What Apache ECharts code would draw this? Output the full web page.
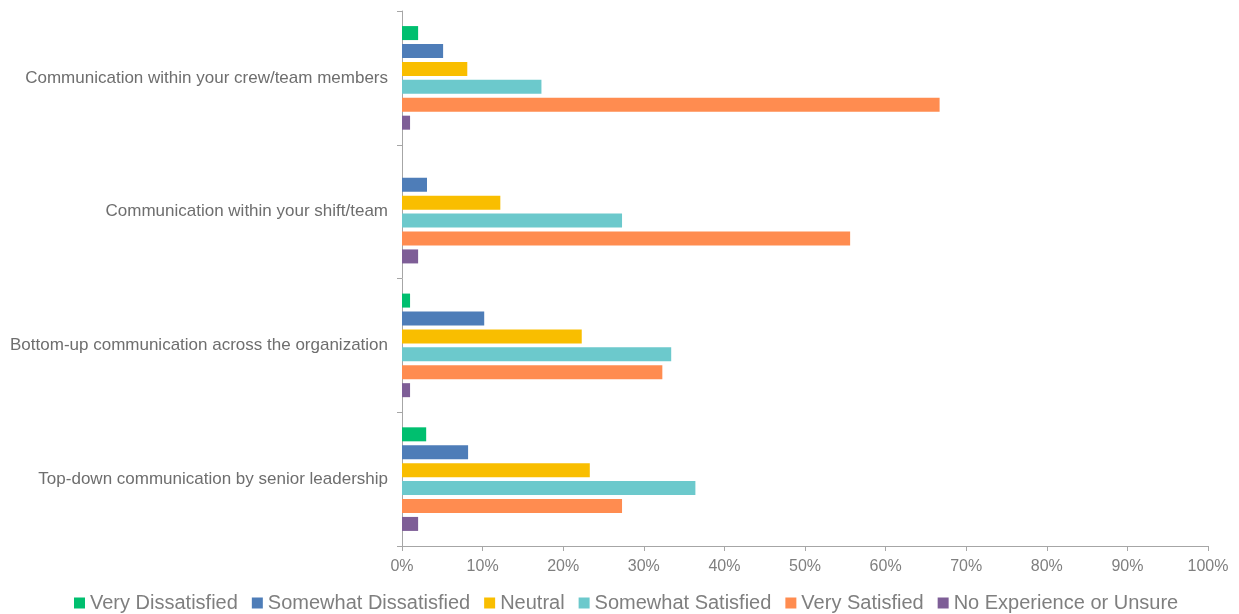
<!DOCTYPE html>
<html>
<head>
<meta charset="utf-8">
<script src="https://cdn.jsdelivr.net/npm/echarts@6/dist/echarts.min.js"></script>
<style>
  html, body { margin: 0; padding: 0; background: #fff; }
  #chart { width: 1239px; height: 614px; }
</style>
</head>
<body>
<div id="chart"></div>
<script>
// Survey items (top to bottom)
const categories = [
  'Communication within your crew/team members',
  'Communication within your shift/team',
  'Bottom-up communication across the organization',
  'Top-down communication by senior leadership'
];

// Response shares (%) per item, in category order
const veryDissatisfied     = [2.0, 0.0, 1.0, 3.0];
const somewhatDissatisfied = [5.1, 3.1, 10.2, 8.2];
const neutral              = [8.1, 12.2, 22.3, 23.3];
const somewhatSatisfied    = [17.3, 27.3, 33.4, 36.4];
const verySatisfied        = [66.7, 55.6, 32.3, 27.3];
const noExperience         = [1.0, 2.0, 1.0, 2.0];

const xTicks = [0, 10, 20, 30, 40, 50, 60, 70, 80, 90, 100];

const seriesDefs = [
  { name: 'Very Dissatisfied',     data: veryDissatisfied,     color: '#00BF6F' },
  { name: 'Somewhat Dissatisfied', data: somewhatDissatisfied, color: '#4E7DB8' },
  { name: 'Neutral',               data: neutral,              color: '#F9BE00' },
  { name: 'Somewhat Satisfied',    data: somewhatSatisfied,    color: '#6CC9CC' },
  { name: 'Very Satisfied',        data: verySatisfied,        color: '#FF8C50' },
  { name: 'No Experience or Unsure', data: noExperience,       color: '#7E5E97' }
];

const font = '"Liberation Sans", Arial, sans-serif';
const chart = echarts.init(document.getElementById('chart'));

chart.setOption({
  animation: false,
  textStyle: { fontFamily: font },
  grid: { left: 402, right: 31, top: 11, bottom: 68, containLabel: false },
  legend: {
    top: 588,
    left: 69,
    itemWidth: 11,
    itemHeight: 11,
    itemGap: 14,
    icon: 'rect',
    textStyle: { fontSize: 20, color: '#7F7F7F', fontFamily: font },
    data: seriesDefs.map(s => s.name)
  },
  xAxis: {
    type: 'value',
    min: xTicks[0],
    max: xTicks[xTicks.length - 1],
    interval: xTicks[1] - xTicks[0],
    axisLine: { show: true, lineStyle: { color: '#A6A6A6', width: 1 } },
    axisTick: { show: true, length: 5, lineStyle: { color: '#A6A6A6' } },
    splitLine: { show: false },
    axisLabel: {
      formatter: v => v + '%',
      fontSize: 16,
      color: '#7F7F7F',
      margin: 13,
      fontFamily: font
    }
  },
  yAxis: {
    type: 'category',
    inverse: true,
    data: categories,
    axisLine: { show: true, lineStyle: { color: '#A6A6A6', width: 1 } },
    axisTick: { show: true, length: 5, lineStyle: { color: '#A6A6A6' } },
    axisLabel: { fontSize: 17, color: '#6E6E6E', margin: 14, fontFamily: font }
  },
  series: seriesDefs.map(s => ({
    name: s.name,
    type: 'bar',
    data: s.data,
    barWidth: 14,
    barGap: '28%',
    itemStyle: { color: s.color },
    emphasis: { disabled: true }
  }))
});
</script>
</body>
</html>
